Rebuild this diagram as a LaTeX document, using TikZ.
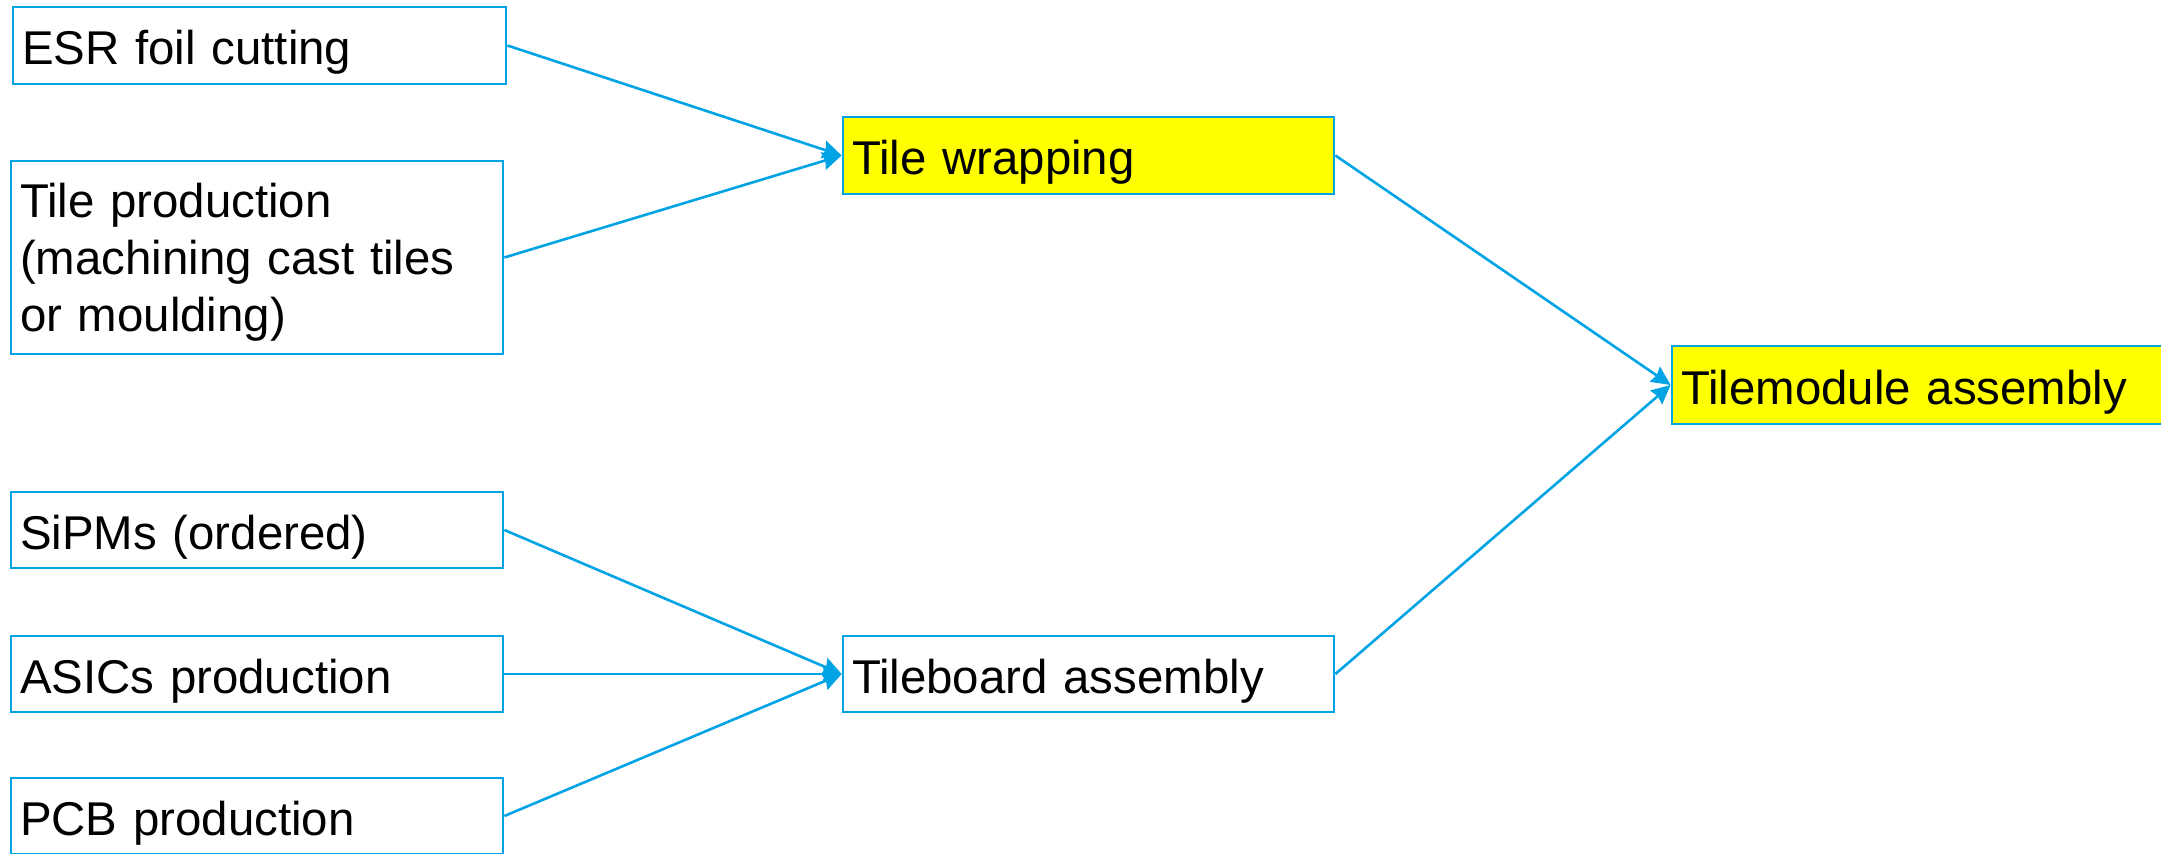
\documentclass[tikz,border=0pt]{standalone}
\usepackage{fontspec}
\setmainfont{Liberation Sans}
\usetikzlibrary{arrows.meta}
\definecolor{flowblue}{RGB}{0,163,228}
\definecolor{flowyellow}{RGB}{255,255,0}
\tikzset{
  stagebox/.style={draw=flowblue, line width=1.4pt, rectangle, inner xsep=4.5pt, inner ysep=0pt,
    align=left, text=black, font=\fontsize{23.7pt}{28.5pt}\selectfont},
  oneline/.style={text height=20.5pt, text depth=1pt},
  hilite/.style={fill=flowyellow},
  flow/.style={draw=flowblue, line width=1.3pt, -{Stealth[length=9.5pt,width=9pt,inset=1pt]}}
}
\begin{document}
\begin{tikzpicture}[x=0.5pt, y=-0.5pt]
  \useasboundingbox (0,0) rectangle (2161,854);
  \clip (0,0) rectangle (2161,854);

  % input stages
  \node[stagebox, oneline, minimum width=246.5pt, minimum height=38.5pt, text width=237.5pt] (esr) at (259.5,45.5) {ESR foil cutting};
  \node[stagebox, minimum width=246pt, minimum height=96.5pt, text width=237pt] (tile) at (257,257.5)
    {\rule{0pt}{22pt}Tile production\\(machining cast tiles\\or moulding)};
  \node[stagebox, oneline, minimum width=246pt, minimum height=38pt, text width=237pt] (sipm) at (257,530) {SiPMs (ordered)};
  \node[stagebox, oneline, minimum width=246pt, minimum height=38pt, text width=237pt] (asic) at (257,674) {ASICs production};
  \node[stagebox, oneline, minimum width=246pt, minimum height=38pt, text width=237pt] (pcb) at (257,816) {PCB production};

  % intermediate stages
  \node[stagebox, oneline, hilite, minimum width=245.5pt, minimum height=38.5pt, text width=236.5pt] (wrap) at (1088.5,155.5) {Tile wrapping};
  \node[stagebox, oneline, minimum width=245.5pt, minimum height=38pt, text width=236.5pt] (board) at (1088.5,674) {Tileboard assembly};

  % final stage
  \node[stagebox, oneline, hilite, minimum width=280pt, minimum height=39pt, text width=271pt] (module) at (1952,385) {Tilemodule assembly};

  % flow connectors
  \draw[flow] (esr.east) -- (wrap.west);
  \draw[flow] (tile.east) -- (wrap.west);
  \draw[flow] (sipm.east) -- (board.west);
  \draw[flow] (asic.east) -- (board.west);
  \draw[flow] (pcb.east) -- (board.west);
  \draw[flow] (wrap.east) -- (module.west);
  \draw[flow] (board.east) -- (module.west);
\end{tikzpicture}
\end{document}
